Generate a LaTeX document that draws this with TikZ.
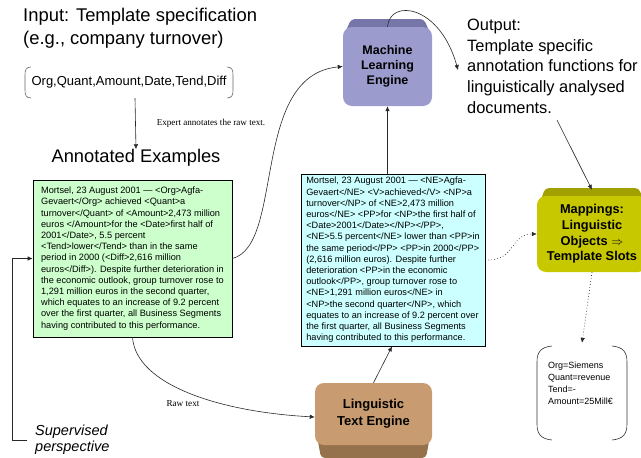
\documentclass[tikz,border=0pt]{standalone}
\usepackage{fontspec}
\setmainfont{Liberation Sans}
\newfontfamily\serifx{Liberation Serif}
\usetikzlibrary{arrows.meta}
\definecolor{greenfill}{RGB}{204,255,204}
\definecolor{cyanfill}{RGB}{204,255,255}
\definecolor{mlface}{RGB}{155,155,205}
\definecolor{mldark}{RGB}{118,118,168}
\definecolor{lingface}{RGB}{200,156,112}
\definecolor{lingdark}{RGB}{150,114,76}
\definecolor{mapface}{RGB}{200,200,0}
\definecolor{mapdark}{RGB}{160,160,0}
\definecolor{linec}{RGB}{40,40,40}
\begin{document}
\begin{tikzpicture}[x=1pt,y=-1pt,
  arr/.style={-{Latex[length=5pt,width=4.5pt]}, line width=0.6pt, draw=linec},
  dotarr/.style={arr, dash pattern=on 0.8pt off 2.2pt},
  txtbox/.style={draw=black, line width=0.7pt, align=left, inner sep=0pt,
     font=\fontsize{9.2}{11.2}\selectfont},
  engine/.style={rounded corners=9pt, align=center, inner sep=0pt},
  plain/.style={inner sep=0pt, align=left},
  brk/.style={line width=0.6pt, draw=black!60}
]
\useasboundingbox (0,0) rectangle (641,458);

% header texts
\node[plain, anchor=north west, font=\fontsize{18.4}{23}\selectfont] (input) at (23,8)
  {Input: Template specification\\(e.g., company turnover)};

\node[plain, minimum width=208pt, minimum height=31pt, align=center,
  font=\fontsize{13}{15}\selectfont] (spec) at (129,82.5) {Org,Quant,Amount,Date,Tend,Diff};
\draw[brk] (31,67) .. controls (26,67) and (25,70) .. (25,75) -- (25,90) .. controls (25,95) and (26,98) .. (31,98);
\draw[brk] (227,67) .. controls (232,67) and (233,70) .. (233,75) -- (233,90) .. controls (233,95) and (232,98) .. (227,98);

\node[plain, font=\serifx\fontsize{9.1}{11}\selectfont] (expert) at (211,123) {Expert annotates the raw text.};

\node[plain, font=\fontsize{18.3}{22}\selectfont] (title) at (136,158) {Annotated Examples};

% annotated example box
\node[txtbox, fill=greenfill, minimum width=199pt, minimum height=157pt] (green) at (132.5,258.5) {%
Mortsel, 23 August 2001 — <Org>Agfa-\\
Gevaert</Org> achieved <Quant>a\\
turnover</Quant> of <Amount>2,473 million\\
euros </Amount>for the <Date>first half of\\
2001</Date>, 5.5 percent\\
<Tend>lower</Tend> than in the same\\
period in 2000 (<Diff>2,616 million\\
euros</Diff>). Despite further deterioration in\\
the economic outlook, group turnover rose to\\
1,291 million euros in the second quarter,\\
which equates to an increase of 9.2 percent\\
over the first quarter, all Business Segments\\
having contributed to this performance.};

% linguistic analysed box
\node[txtbox, fill=cyanfill, minimum width=184pt, minimum height=172pt] (cyan) at (393,260) {%
Mortsel, 23 August 2001 — <NE>Agfa-\\
Gevaert</NE> <V>achieved</V> <NP>a\\
turnover</NP> of <NE>2,473 million\\
euros</NE> <PP>for <NP>the first half of\\
<Date>2001</Date></NP></PP>,\\
<NE>5.5 percent</NE> lower than <PP>in\\
the same period</PP> <PP>in 2000</PP>\\
(2,616 million euros). Despite further\\
deterioration <PP>in the economic\\
outlook</PP>, group turnover rose to\\
<NE>1,291 million euros</NE> in\\
<NP>the second quarter</NP>, which\\
equates to an increase of 9.2 percent over\\
the first quarter, all Business Segments\\
having contributed to this performance.};

% Machine learning engine
\fill[mldark, rounded corners=4pt] (343,38) -- (351,19) -- (424,19) -- (432,38) -- cycle;
\node[engine, fill=mlface, minimum width=89pt, minimum height=79pt,
  font=\bfseries\fontsize{12.5}{15}\selectfont] (ml) at (387.5,66.5) {Machine\\Learning\\Engine};

% Linguistic text engine
\fill[lingdark, rounded corners=4pt] (315,425) -- (432,425) -- (426,458) -- (321,458) -- cycle;
\node[engine, fill=lingface, minimum width=117pt, minimum height=62pt,
  font=\bfseries\fontsize{13}{17}\selectfont] (ling) at (373.5,414) {Linguistic\\Text Engine};

% Mappings
\fill[mapdark, rounded corners=4pt] (537,212) -- (545,188) -- (639,188) -- (647,212) -- cycle;
\node[engine, fill=mapface, minimum width=110pt, minimum height=76pt,
  font=\bfseries\fontsize{12.8}{15.7}\selectfont] (map) at (592,234)
  {Mappings:\\Linguistic\\Objects $\Rightarrow$\\Template Slots};

% Output text
\node[plain, anchor=north west, font=\fontsize{16.4}{20.6}\selectfont] (out) at (467,19)
  {Output:\\Template specific\\annotation functions for\\linguistically analysed\\documents.};

% result bracket
\node[minimum width=90pt, minimum height=94pt, inner sep=0pt] (res) at (582,393) {};
\draw[brk, draw=black!80] (552,346) .. controls (541,347) and (537,352) .. (537,362) -- (537,424) .. controls (537,434) and (541,439) .. (552,440);
\draw[brk, draw=black!80] (612,346) .. controls (623,347) and (627,352) .. (627,362) -- (627,424) .. controls (627,434) and (623,439) .. (612,440);
\node[plain, anchor=north west, font=\fontsize{9}{12}\selectfont] (restext) at (548,362)
  {Org=Siemens\\Quant=revenue\\Tend=-\\Amount=25Mill€};

% labels
\node[plain, font=\serifx\fontsize{9.2}{11}\selectfont] (raw) at (183,404) {Raw text};
\node[plain, anchor=west, font=\itshape\fontsize{14.5}{16}\selectfont] (sup) at (35,440) {Supervised\\perspective};

% connectors
\coordinate (outfoot) at (557,120);
\coordinate (outtip) at (458,70);
\draw[arr] ([xshift=6pt]spec.south) -- ([xshift=0pt]title.north);
\draw[arr] (green.east) .. controls (285,245) and (250,75) .. (ml.west);
\draw[arr] (cyan.north -| ml.south) -- (ml.south);
\draw[arr] (ling.north) -- ([xshift=-1pt]cyan.south);
\draw[arr] (green.south) .. controls (136,385) and (220,412) .. ([yshift=-3pt]ling.west);
\draw[arr] (ml.north) .. controls (390,-2) and (440,5) .. (outtip);
\draw[arr] (outfoot) -- ([yshift=6pt]map.north);
\draw[dotarr] (cyan.east) .. controls (515,262) and (510,234) .. (map.west);
\draw[dotarr] (map.south) -- ([yshift=3pt]res.north);
\draw[arr] ([xshift=-8pt]sup.west) -- ++(-15,0) |- (green.west);
\end{tikzpicture}
\end{document}
